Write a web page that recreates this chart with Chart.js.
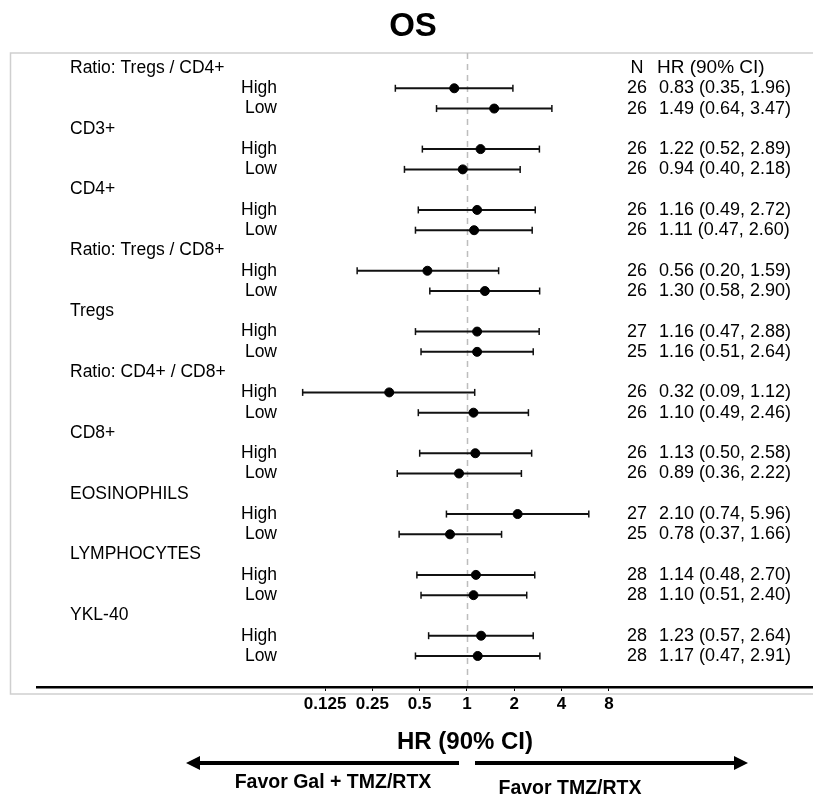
<!DOCTYPE html>
<html>
<head>
<meta charset="utf-8">
<script src="https://cdn.jsdelivr.net/npm/chart.js@4"></script>
<style>
  html, body { margin: 0; padding: 0; background: #fff; }
  #wrap { width: 813px; height: 796px; position: relative; }
</style>
</head>
<body>
<div id="wrap"><canvas id="forest"></canvas></div>
<script>
// forest plot of OS hazard ratios by biomarker subgroup

const groups = ['Ratio: Tregs / CD4+', 'CD3+', 'CD4+', 'Ratio: Tregs / CD8+', 'Tregs',
  'Ratio: CD4+ / CD8+', 'CD8+', 'EOSINOPHILS', 'LYMPHOCYTES', 'YKL-40'];
const levels = ['High', 'Low'];

// per group: [High, Low]
const nCounts = [[26, 26], [26, 26], [26, 26], [26, 26], [27, 25], [26, 26], [26, 26], [27, 25], [28, 28], [28, 28]];
const hr      = [[0.83, 1.49], [1.22, 0.94], [1.16, 1.11], [0.56, 1.30], [1.16, 1.16], [0.32, 1.10], [1.13, 0.89], [2.10, 0.78], [1.14, 1.10], [1.23, 1.17]];
const ciLow   = [[0.35, 0.64], [0.52, 0.40], [0.49, 0.47], [0.20, 0.58], [0.47, 0.51], [0.09, 0.49], [0.50, 0.36], [0.74, 0.37], [0.48, 0.51], [0.57, 0.47]];
const ciHigh  = [[1.96, 3.47], [2.89, 2.18], [2.72, 2.60], [1.59, 2.90], [2.88, 2.64], [1.12, 2.46], [2.58, 2.22], [5.96, 1.66], [2.70, 2.40], [2.64, 2.91]];

const xTicks = [0.125, 0.25, 0.5, 1, 2, 4, 8];

const FONT = '"Liberation Sans", Arial, Helvetica, sans-serif';
const fmt = v => v.toFixed(2);

// row index: group header at 3g, High at 3g+1, Low at 3g+2
const pointData = [];
const whiskerSets = [];
groups.forEach((g, gi) => {
  levels.forEach((lv, li) => {
    const row = gi * 3 + 1 + li;
    pointData.push({ x: hr[gi][li], y: row });
    whiskerSets.push({
      type: 'scatter',
      data: [{ x: ciLow[gi][li], y: row }, { x: ciHigh[gi][li], y: row }],
      showLine: true,
      borderColor: '#111',
      borderWidth: 2,
      pointStyle: 'line',
      rotation: 90,
      pointRadius: 3.5,
      pointBorderWidth: 1.5,
      pointBorderColor: '#111',
    });
  });
});

const decor = {
  id: 'decor',
  beforeDraw(chart) {
    const c = chart.ctx;
    c.save();
    c.fillStyle = '#fff';
    c.fillRect(0, 0, chart.width, chart.height);
    c.strokeStyle = '#cfcfcf';
    c.lineWidth = 1.5;
    c.strokeRect(10.5, 53, 820, 641);
    c.restore();
  },
  beforeDatasetsDraw(chart) {
    const c = chart.ctx, x = chart.scales.x, a = chart.chartArea;
    const px = Math.round(x.getPixelForValue(1)) + 0.5;
    c.save();
    c.strokeStyle = '#bdbdbd';
    c.lineWidth = 1.5;
    c.setLineDash([6, 5]);
    c.beginPath(); c.moveTo(px, a.top); c.lineTo(px, a.bottom); c.stroke();
    c.restore();
  },
  afterDraw(chart) {
    const c = chart.ctx, y = chart.scales.y;
    c.save();
    c.fillStyle = '#000';
    c.textBaseline = 'middle';

    // column headers
    c.font = '18px ' + FONT;
    c.textAlign = 'center';
    c.fillText('N', 637, y.getPixelForValue(0));
    c.textAlign = 'left';
    c.font = '19px ' + FONT;
    c.fillText('HR (90% CI)', 657, y.getPixelForValue(0));

    groups.forEach((g, gi) => {
      c.textAlign = 'left';
      c.font = '17.5px ' + FONT;
      c.fillText(g, 70, y.getPixelForValue(gi * 3));
      levels.forEach((lv, li) => {
        const py = y.getPixelForValue(gi * 3 + 1 + li);
        c.font = '17.5px ' + FONT;
        c.textAlign = 'right';
        c.fillText(lv, 277, py);
        c.font = '18px ' + FONT;
        c.fillText(String(nCounts[gi][li]), 647, py);
        c.textAlign = 'left';
        c.fillText(fmt(hr[gi][li]) + ' (' + fmt(ciLow[gi][li]) + ', ' + fmt(ciHigh[gi][li]) + ')', 659, py);
      });
    });

    // title and axis label
    c.textAlign = 'center';
    c.font = 'bold 33px ' + FONT;
    c.fillText('OS', 413, 27);
    c.font = 'bold 24px ' + FONT;
    c.fillText('HR (90% CI)', 465, 742);

    // favour arrows
    const ay = 763;
    c.lineWidth = 4;
    c.strokeStyle = '#000';
    c.beginPath(); c.moveTo(459, ay); c.lineTo(198, ay); c.stroke();
    c.beginPath(); c.moveTo(475, ay); c.lineTo(736, ay); c.stroke();
    c.beginPath(); c.moveTo(186, ay); c.lineTo(200, ay - 7); c.lineTo(200, ay + 7); c.closePath(); c.fill();
    c.beginPath(); c.moveTo(748, ay); c.lineTo(734, ay - 7); c.lineTo(734, ay + 7); c.closePath(); c.fill();

    c.font = 'bold 19.5px ' + FONT;
    c.fillText('Favor Gal + TMZ/RTX', 333, 783);
    c.fillText('Favor TMZ/RTX', 570, 789);
    c.restore();
  }
};

new Chart(document.getElementById('forest'), {
  type: 'scatter',
  data: {
    datasets: [
      {
        data: pointData,
        backgroundColor: '#000',
        borderColor: '#000',
        pointRadius: 4.5,
        pointHoverRadius: 4.5,
      },
      ...whiskerSets,
    ],
  },
  options: {
    responsive: true,
    maintainAspectRatio: false,
    animation: false,
    events: [],
    layout: { autoPadding: false, padding: { left: 37, top: 53, right: 0, bottom: 79 } },
    plugins: { legend: { display: false }, tooltip: { enabled: false } },
    scales: {
      x: {
        type: 'logarithmic',
        position: 'bottom',
        min: Math.pow(2, -9.09),
        max: Math.pow(2, 7.315),
        afterBuildTicks: s => { s.ticks = xTicks.map(v => ({ value: v })); },
        afterFit: s => { s.height = 30; s.paddingLeft = 0; s.paddingRight = 0; },
        grid: { drawOnChartArea: false, drawTicks: true, tickLength: 4, color: '#000', lineWidth: 1 },
        border: { display: true, color: '#000', width: 2.5 },
        ticks: {
          color: '#000',
          padding: 3,
          maxRotation: 0,
          autoSkip: false,
          font: { family: FONT, size: 17, weight: 'bold' },
          callback: v => String(v),
        },
      },
      y: {
        type: 'linear',
        display: false,
        reverse: true,
        min: -0.74,
        max: 30.53,
      },
    },
  },
  plugins: [decor],
});
</script>
</body>
</html>
